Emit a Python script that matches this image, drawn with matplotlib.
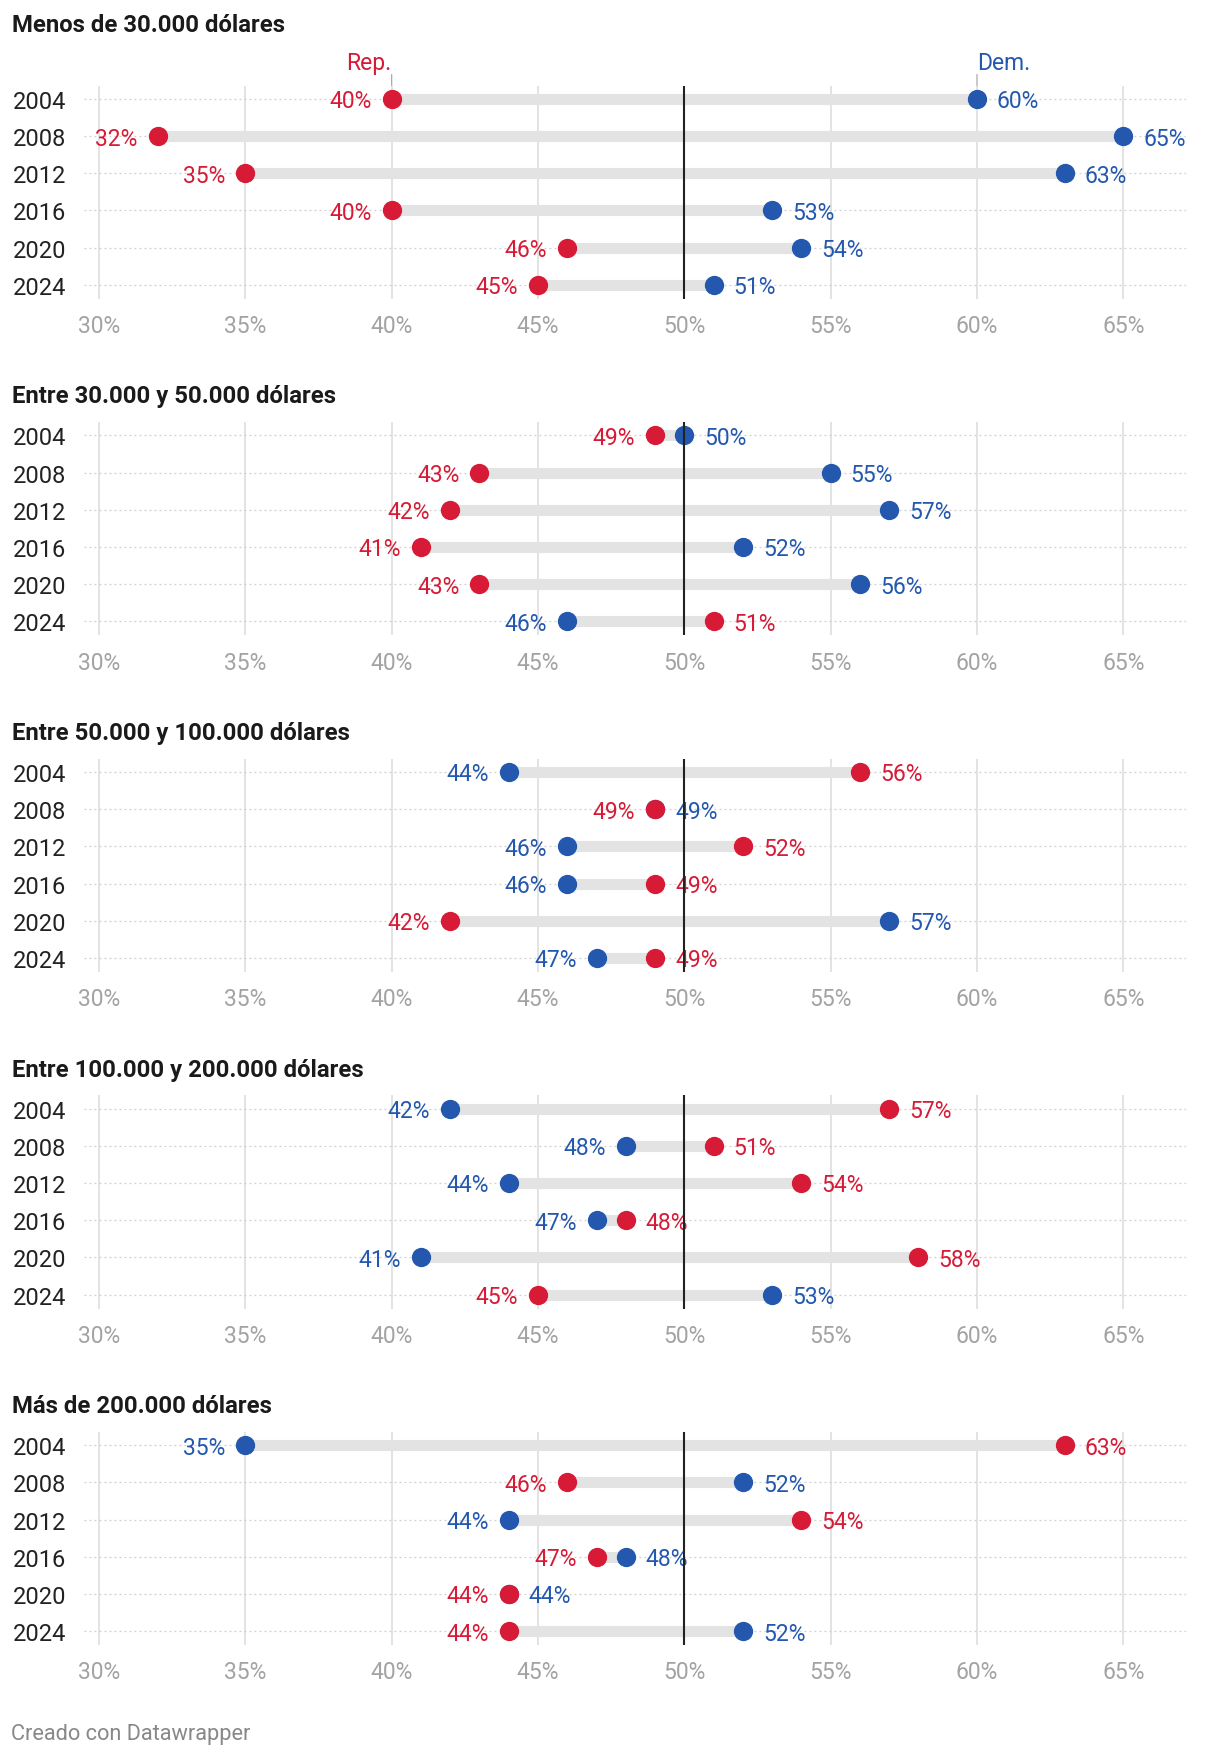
import matplotlib
matplotlib.use("Agg")
import matplotlib.pyplot as plt

plt.rcParams['font.family'] = ['Roboto', 'DejaVu Sans']

years = ["2004", "2008", "2012", "2016", "2020", "2024"]
titles = [
    "Menos de 30.000 dólares",
    "Entre 30.000 y 50.000 dólares",
    "Entre 50.000 y 100.000 dólares",
    "Entre 100.000 y 200.000 dólares",
    "Más de 200.000 dólares",
]
rep_lt30 = [40, 32, 35, 40, 46, 45]
dem_lt30 = [60, 65, 63, 53, 54, 51]
rep_30_50 = [49, 43, 42, 41, 43, 51]
dem_30_50 = [50, 55, 57, 52, 56, 46]
rep_50_100 = [56, 49, 52, 49, 42, 49]
dem_50_100 = [44, 49, 46, 46, 57, 47]
rep_100_200 = [57, 51, 54, 48, 58, 45]
dem_100_200 = [42, 48, 44, 47, 41, 53]
rep_gt200 = [63, 46, 54, 47, 44, 44]
dem_gt200 = [35, 52, 44, 48, 44, 52]
x_ticks = [30, 35, 40, 45, 50, 55, 60, 65]
x_tick_labels = ["30%", "35%", "40%", "45%", "50%", "55%", "60%", "65%"]

rep_all = [rep_lt30, rep_30_50, rep_50_100, rep_100_200, rep_gt200]
dem_all = [dem_lt30, dem_30_50, dem_50_100, dem_100_200, dem_gt200]

RED = "#d71a36"
BLUE = "#2358ae"
W, H = 1220, 1758
fig = plt.figure(figsize=(W / 100, H / 100), dpi=100)
fig.patch.set_facecolor("white")

row_sp = 37.2
left_px, right_px = 84, 1186
x0_val = 30 + (left_px - 99.0) / 29.266
x1_val = 30 + (right_px - 99.0) / 29.266

for k in range(5):
    row1 = 99.8 + 336.6 * k
    top_px = row1 - 13.3
    bot_px = row1 + 5 * row_sp + 14
    ax = fig.add_axes([left_px / W, 1 - bot_px / H, (right_px - left_px) / W, (bot_px - top_px) / H])
    ax.set_xlim(x0_val, x1_val)
    ax.set_ylim(5 + 14 / row_sp, -13.3 / row_sp)
    for s in ax.spines.values():
        s.set_visible(False)
    ax.set_xticks(x_ticks)
    ax.set_xticklabels(x_tick_labels)
    ax.set_yticks(range(len(years)))
    ax.set_yticklabels(years)
    ax.tick_params(axis="x", length=0, pad=11, labelsize=16.5, labelcolor="#a3a3a3")
    ax.tick_params(axis="y", length=0, pad=13, labelsize=17, labelcolor="#222222")
    for xv in x_ticks:
        ax.axvline(xv, color="#e3e3e3", lw=1.4, zorder=0)
    rep = rep_all[k]
    dem = dem_all[k]
    for i in range(len(years)):
        ax.axhline(i, color="#cfcfcf", lw=0.9, linestyle=(0, (1.5, 2.5)), zorder=1)
        lo, hi = min(rep[i], dem[i]), max(rep[i], dem[i])
        ax.hlines(i, lo, hi, color="#e3e3e3", lw=8, zorder=2, capstyle="butt")
    ax.plot(dem, range(len(years)), "o", color=BLUE, ms=13.9, mec="none", zorder=3)
    ax.plot(rep, range(len(years)), "o", color=RED, ms=13.9, mec="none", zorder=4)
    for i in range(len(years)):
        r, d = rep[i], dem[i]
        if r <= d:
            rl, dl = "left", "right"
        else:
            rl, dl = "right", "left"
        for v, c, side in ((r, RED, rl), (d, BLUE, dl)):
            off = -20 if side == "left" else 20
            ax.annotate(f"{v}%", xy=(v, i), xytext=(off, -2), textcoords="offset pixels",
                        ha="right" if side == "left" else "left", va="center",
                        fontsize=16.5, color=c, zorder=5)
    ax.axvline(50, color="#222222", lw=1.5, zorder=6)
    if k == 0:
        ax.annotate("Rep.", xy=(rep[0], -13.3 / row_sp), xytext=(0, 23), textcoords="offset pixels",
                    ha="right", va="center", fontsize=16.5, color=RED,
                    annotation_clip=False)
        ax.annotate("Dem.", xy=(dem[0], -13.3 / row_sp), xytext=(0, 23), textcoords="offset pixels",
                    ha="left", va="center", fontsize=16.5, color=BLUE,
                    annotation_clip=False)
        for v in (rep[0], dem[0]):
            ax.annotate("", xy=(v, -13.3 / row_sp), xytext=(v, -13.3 / row_sp - 11 / row_sp),
                        arrowprops=dict(arrowstyle="-", color="#aaaaaa", lw=0.9,
                                        shrinkA=0, shrinkB=0),
                        annotation_clip=False)
        title_y = 25
    else:
        title_y = row1 - 39.5
    fig.text(12 / W, 1 - title_y / H, titles[k], ha="left", va="center",
             fontsize=17.2, fontweight="bold", color="#1a1a1a")

fig.text(11 / W, 1 - 1735 / H, "Creado con Datawrapper", ha="left", va="center",
         fontsize=15.7, color="#888888")

fig.savefig("out.png", dpi=100, facecolor="white")
